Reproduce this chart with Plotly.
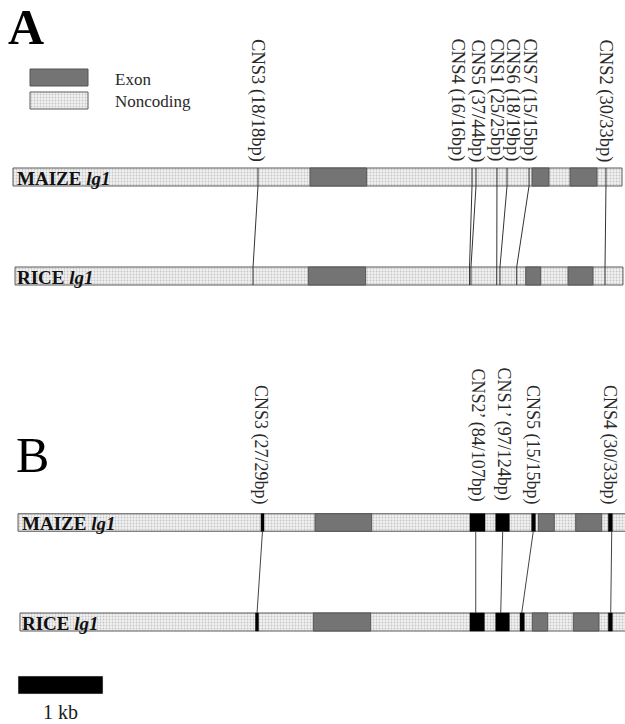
import plotly.graph_objects as go

# ---------------- data (kb) ----------------
A_maize_span = [0.000, 7.165]
A_maize_exon_start = [3.494, 6.106, 6.553]
A_maize_exon_end = [4.161, 6.306, 6.871]
A_rice_span = [0.024, 7.176]
A_rice_exon_start = [3.474, 6.032, 6.529]
A_rice_exon_end = [4.149, 6.208, 6.824]
A_cns_names = ["CNS3 (18/18bp)", "CNS4 (16/16bp)", "CNS5 (37/44bp)", "CNS1 (25/25bp)",
               "CNS6 (18/19bp)", "CNS7 (15/15bp)", "CNS2 (30/33bp)"]
A_cns_maize = [2.882, 5.400, 5.447, 5.694, 5.812, 6.071, 6.976]
A_cns_rice = [2.824, 5.371, 5.388, 5.691, 5.729, 5.926, 6.965]

B_maize_span = [0.059, 7.400]
B_maize_exon_start = [3.553, 6.180, 6.620]
B_maize_exon_end = [4.220, 6.368, 6.926]
B_rice_span = [0.082, 7.400]
B_rice_exon_start = [3.533, 6.109, 6.592]
B_rice_exon_end = [4.208, 6.291, 6.894]
B_cns_names = ["CNS3 (27/29bp)", "CNS2\u2019 (84/107bp)", "CNS1\u2019 (97/124bp)",
               "CNS5 (15/15bp)", "CNS4 (30/33bp)"]
B_maize_cns_start = [2.918, 5.376, 5.679, 6.102, 7.004]
B_maize_cns_end = [2.953, 5.553, 5.839, 6.145, 7.051]
B_rice_cns_start = [2.853, 5.376, 5.679, 5.965, 7.004]
B_rice_cns_end = [2.888, 5.545, 5.839, 6.015, 7.051]
B_cns_maize = [2.935, 5.444, 5.761, 6.121, 7.044]
B_cns_rice = [2.871, 5.444, 5.738, 5.985, 7.032]

scale_bar = [0.059, 1.059]
scale_label = "1 kb"

# ---------------- layout constants ----------------
W, H = 625, 724
PX0, PXKB = 13.0, 85.0          # pixel of 0 kb, pixels per kb
XR = [(0 - PX0) / PXKB, (W - PX0) / PXKB]
SERIF = "Liberation Serif"

rows = {  # center y (px), height (px)
    "A_maize": (177, 18), "A_rice": (276, 18),
    "B_maize": (522.5, 17.5), "B_rice": (622, 18),
}
A_label_x = [2.876, 5.235, 5.459, 5.694, 5.882, 6.082, 6.965]
B_label_x = [2.918, 5.459, 5.776, 6.118, 7.024]
B_label_bottom = [507, 503, 503, 507, 507]

NONCODING = dict(color="#efefef", line=dict(color="#5a5a5a", width=1),
                 pattern=dict(shape=".", fgcolor="#9a9a9a", bgcolor="#f1f1f1",
                              size=3, solidity=0.3))
EXON = dict(color="#747474", line=dict(color="#555555", width=1))
CNSBOX = dict(color="#000000", line=dict(color="#000000", width=0.5))

fig = go.Figure()


def hbar(starts, ends, yc, h, marker):
    fig.add_trace(go.Bar(orientation="h", base=starts,
                         x=[e - s for s, e in zip(starts, ends)],
                         y=[yc] * len(starts), width=[h] * len(starts),
                         marker=marker, showlegend=False, hoverinfo="skip"))


def gene(span, ex_s, ex_e, row):
    yc, h = rows[row]
    hbar([span[0]], [span[1]], yc, h, NONCODING)
    hbar(ex_s, ex_e, yc, h, EXON)


gene(A_maize_span, A_maize_exon_start, A_maize_exon_end, "A_maize")
gene(A_rice_span, A_rice_exon_start, A_rice_exon_end, "A_rice")
gene(B_maize_span, B_maize_exon_start, B_maize_exon_end, "B_maize")
gene(B_rice_span, B_rice_exon_start, B_rice_exon_end, "B_rice")

# CNS connectors, panel A (lines through both bars)
ym, hm = rows["A_maize"]
yr, hr = rows["A_rice"]
lx, ly = [], []
for xm, xr in zip(A_cns_maize, A_cns_rice):
    lx += [xm, xm, xr, xr, None]
    ly += [ym - hm / 2, ym + hm / 2, yr - hr / 2, yr + hr / 2, None]
fig.add_trace(go.Scatter(x=lx, y=ly, mode="lines", line=dict(color="#333333", width=1),
                         showlegend=False, hoverinfo="skip"))

# panel B: black CNS boxes + connectors
ym, hm = rows["B_maize"]
yr, hr = rows["B_rice"]
lx, ly = [], []
for xm, xr in zip(B_cns_maize, B_cns_rice):
    lx += [xm, xr, None]
    ly += [ym + hm / 2, yr - hr / 2, None]
fig.add_trace(go.Scatter(x=lx, y=ly, mode="lines", line=dict(color="#444444", width=1),
                         showlegend=False, hoverinfo="skip"))
hbar(B_maize_cns_start, B_maize_cns_end, ym, hm, CNSBOX)
hbar(B_rice_cns_start, B_rice_cns_end, yr, hr, CNSBOX)

# legend boxes
lg0, lg1 = (30 - PX0) / PXKB, (88 - PX0) / PXKB
hbar([lg0], [lg1], 77.5, 17, EXON)
hbar([lg0], [lg1], 100.5, 17, NONCODING)

# scale bar
hbar([scale_bar[0]], [scale_bar[1]], 685, 18, dict(color="#000000"))

ann = []


def txt(x, y, text, size, **kw):
    d = dict(x=x, y=y, xref="x", yref="y", text=text, showarrow=False,
             font=dict(family=SERIF, size=size, color=kw.pop("color", "#1a1a1a")))
    d.update(kw)
    ann.append(d)


for name, x in zip(A_cns_names, A_label_x):
    txt(x, 164, name, 18.5, textangle=90, xanchor="center", yanchor="bottom", color="#2a2a2a")
for name, x, yb in zip(B_cns_names, B_label_x, B_label_bottom):
    txt(x, yb, name, 18, textangle=90, xanchor="center", yanchor="bottom", color="#2a2a2a")

# gene labels inside bars
for row, lab, px in [("A_maize", "MAIZE", 15), ("A_rice", "RICE", 15),
                     ("B_maize", "MAIZE", 20), ("B_rice", "RICE", 20)]:
    yc, _ = rows[row]
    txt((px - PX0) / PXKB, yc + 1, f"<b>{lab} <i>lg1</i></b>", 19,
        xanchor="left", yanchor="middle", color="#111111")

txt((113 - PX0) / PXKB, 79, "Exon", 17, xanchor="left", yanchor="middle", color="#2a2a2a")
txt((113 - PX0) / PXKB, 101, "Noncoding", 17, xanchor="left", yanchor="middle", color="#2a2a2a")
txt((25.5 - PX0) / PXKB, 27, "<b>A</b>", 50, xanchor="center", yanchor="middle", color="#000000")
txt((32 - PX0) / PXKB, 455, "B", 50, xanchor="center", yanchor="middle", color="#000000")
txt(sum(scale_bar) / 2, 712, scale_label, 20, xanchor="center", yanchor="middle", color="#1a1a1a")

fig.update_layout(
    width=W, height=H, margin=dict(l=0, r=0, t=0, b=0),
    paper_bgcolor="white", plot_bgcolor="white", barmode="overlay",
    xaxis=dict(range=XR, visible=False, fixedrange=True),
    yaxis=dict(range=[H, 0], visible=False, fixedrange=True),
    annotations=ann, showlegend=False,
)
fig.write_html("out.html", config={"displayModeBar": False},
               post_script="document.body.style.margin='0';document.body.style.overflow='hidden';")
